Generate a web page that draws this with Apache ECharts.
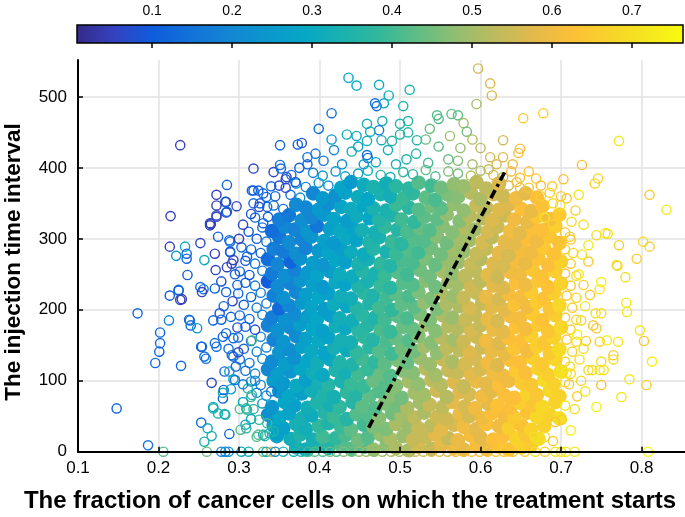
<!DOCTYPE html>
<html><head><meta charset="utf-8">
<script src="https://cdn.jsdelivr.net/npm/echarts@6/dist/echarts.min.js"></script>
<style>html,body{margin:0;padding:0;background:#fff}#c{width:685px;height:517px}</style>
</head><body><div id="c"></div>
<script>
// ---- data: [fraction, interval, colour value] ----
const cbTicks=[0.1,0.2,0.3,0.4,0.5,0.6,0.7];
const cbRange=[0.006,0.764];
const trendLine=[[0.461,34],[0.631,396]];
const coreLow=[
[.371,6,.34],[.383,3,.32],[.399,8,.37],[.411,5,.35],[.427,9,.42],[.439,4,.42],[.455,7,.42],[.467,3,.49],[.483,8,.47],[.495,5,.51],[.511,2,.50],[.523,7,.56],[.539,4,.53],[.551,9,.58],[.567,5,.60],[.579,3,.58],[.595,8,.61],[.607,4,.59],[.623,7,.64],[.635,3,.63],[.651,6,.67],[.663,9,.65],
[.347,22,.27],[.364,18,.32],[.376,24,.35],[.392,17,.33],[.404,21,.40],[.420,19,.38],[.432,23,.41],[.448,16,.45],[.460,20,.42],[.476,24,.48],[.488,18,.51],[.504,22,.49],[.516,17,.54],[.532,21,.54],[.544,24,.58],[.560,19,.54],[.572,16,.59],[.588,23,.61],[.600,20,.58],[.616,17,.62],[.628,22,.62],[.644,19,.67],[.656,24,.64],[.672,18,.69],
[.343,37,.28],[.355,33,.27],[.371,39,.33],[.383,32,.32],[.399,36,.38],[.411,40,.35],[.427,34,.39],[.439,31,.43],[.455,38,.40],[.467,35,.46],[.483,32,.46],[.495,39,.51],[.511,36,.49],[.523,33,.54],[.539,37,.53],[.551,31,.58],[.567,38,.56],[.579,35,.60],[.595,32,.58],[.607,39,.62],[.623,36,.60],[.635,33,.66],[.651,37,.63],[.663,31,.67],[.679,36,.67],
[.336,52,.22],[.350,48,.29],[.362,54,.28],[.378,47,.33],[.390,51,.31],[.406,55,.36],[.418,49,.39],[.434,46,.36],[.446,53,.42],[.462,50,.42],[.474,47,.47],[.490,54,.45],[.502,51,.50],[.518,48,.53],[.530,55,.51],[.546,49,.55],[.558,46,.55],[.574,53,.59],[.586,50,.56],[.602,47,.60],[.614,54,.62],[.630,51,.61],[.642,48,.65],[.658,55,.63],[.670,49,.68],[.686,52,.67],[.698,47,.70],
[.341,63,.24],[.357,70,.29],[.369,65,.27],[.385,62,.32],[.397,69,.35],[.413,66,.33],[.425,63,.38],[.441,70,.36],[.453,64,.43],[.469,61,.42],[.481,68,.46],[.497,65,.45],[.509,62,.51],[.525,69,.50],[.537,66,.54],[.553,63,.53],[.565,70,.58],[.581,64,.56],[.593,61,.60],[.609,68,.58],[.621,65,.63],[.637,62,.62],[.649,69,.66],[.665,66,.64],[.677,63,.68],[.693,70,.67],
[.350,85,.24],[.362,78,.29],[.378,82,.27],[.390,86,.32],[.406,80,.35],[.418,77,.33],[.434,84,.38],[.446,81,.36],[.462,78,.43],[.474,85,.42],[.490,79,.47],[.502,76,.45],[.518,83,.50],[.530,80,.50],[.546,86,.55],[.558,77,.52],[.574,84,.57],[.586,81,.56],[.602,78,.60],[.614,85,.58],[.630,79,.62],[.642,76,.62],[.658,83,.67],[.670,80,.64],[.686,86,.68],[.698,78,.67],
[.343,100,.26],[.355,96,.25],[.371,93,.30],[.383,101,.27],[.399,97,.33],[.411,94,.36],[.427,99,.34],[.439,95,.39],[.455,92,.39],[.467,100,.44],[.483,96,.42],[.495,93,.47],[.511,99,.50],[.523,95,.48],[.539,101,.53],[.551,94,.52],[.567,98,.57],[.579,92,.54],[.595,99,.59],[.607,96,.58],[.623,93,.62],[.635,100,.60],[.651,97,.65],[.663,94,.64],[.679,101,.69],[.691,95,.67],
[.336,116,.20],[.348,109,.26],[.364,113,.24],[.376,117,.29],[.392,111,.32],[.404,108,.30],[.420,115,.35],[.432,112,.33],[.448,109,.40],[.460,116,.39],[.476,110,.44],[.488,107,.42],[.504,114,.47],[.516,111,.47],[.532,117,.52],[.544,108,.50],[.560,115,.54],[.572,112,.54],[.588,109,.58],[.600,116,.56],[.616,110,.60],[.628,107,.60],[.644,114,.65],[.656,111,.62],[.672,117,.67],[.684,108,.66],[.700,113,.70],
[.341,127,.21],[.357,124,.26],[.369,132,.23],[.385,128,.29],[.397,125,.32],[.413,130,.30],[.425,126,.35],[.441,123,.35],[.453,131,.40],[.469,127,.38],[.481,124,.43],[.497,129,.46],[.509,126,.44],[.525,132,.49],[.537,123,.49],[.553,130,.54],[.565,127,.51],[.581,124,.56],[.593,131,.56],[.609,125,.60],[.621,122,.57],[.637,129,.62],[.649,126,.62],[.665,132,.66],[.677,123,.65],[.693,130,.68]
];
const coreMid=[
[.350,140,.24],[.362,144,.22],[.378,148,.27],[.390,142,.30],[.406,139,.28],[.418,146,.33],[.434,143,.31],[.446,140,.38],[.462,147,.37],[.474,141,.42],[.490,138,.40],[.502,145,.45],[.518,142,.45],[.530,148,.50],[.546,139,.48],[.558,146,.53],[.574,143,.53],[.586,140,.57],[.602,147,.55],[.614,141,.59],[.630,138,.59],[.642,145,.64],[.658,142,.61],[.670,148,.66],[.686,139,.65],[.698,144,.69],
[.343,158,.19],[.355,155,.24],[.371,163,.21],[.383,159,.27],[.399,156,.30],[.411,161,.28],[.427,157,.33],[.439,154,.33],[.455,162,.38],[.467,158,.36],[.483,155,.41],[.495,160,.44],[.511,157,.42],[.523,163,.47],[.539,154,.47],[.551,161,.52],[.567,158,.50],[.579,155,.55],[.595,162,.55],[.607,156,.60],[.623,153,.57],[.635,160,.62],[.651,157,.62],[.663,163,.66],[.679,154,.64],[.691,161,.67],
[.336,178,.19],[.348,171,.23],[.364,175,.21],[.376,179,.26],[.392,173,.29],[.404,170,.27],[.420,177,.32],[.432,174,.30],[.448,171,.37],[.460,178,.36],[.476,172,.41],[.488,169,.39],[.504,176,.44],[.516,173,.44],[.532,179,.49],[.544,170,.47],[.560,177,.52],[.572,174,.52],[.588,171,.56],[.600,178,.54],[.616,172,.59],[.628,169,.58],[.644,176,.63],[.656,173,.61],[.672,179,.65],[.684,170,.64],[.700,175,.68],
[.341,189,.18],[.357,186,.23],[.369,194,.21],[.385,190,.26],[.397,187,.29],[.413,192,.27],[.425,188,.32],[.441,185,.32],[.453,193,.37],[.469,189,.35],[.481,186,.40],[.497,191,.43],[.509,188,.41],[.525,194,.46],[.537,185,.46],[.553,192,.51],[.565,189,.49],[.581,186,.54],[.593,193,.54],[.609,187,.59],[.621,184,.56],[.637,191,.61],[.649,188,.61],[.665,194,.65],[.677,185,.63],[.693,192,.66],
[.350,202,.13],[.362,206,.20],[.378,210,.25],[.390,204,.28],[.406,201,.26],[.418,208,.31],[.434,205,.29],[.446,202,.36],[.462,209,.35],[.474,203,.40],[.490,200,.38],[.502,207,.43],[.518,204,.43],[.530,210,.48],[.546,201,.46],[.558,208,.51],[.574,205,.51],[.586,202,.56],[.602,209,.54],[.614,203,.58],[.630,200,.58],[.642,207,.63],[.658,204,.60],[.670,210,.65],[.686,201,.64],[.698,206,.68],
[.343,220,.18],[.355,217,.23],[.371,225,.20],[.383,221,.26],[.399,218,.29],[.411,223,.27],[.427,219,.32],[.439,216,.32],[.455,224,.37],[.467,220,.35],[.483,217,.40],[.495,222,.43],[.511,219,.41],[.523,225,.46],[.539,216,.46],[.551,223,.51],[.567,220,.49],[.579,217,.54],[.595,224,.54],[.607,218,.59],[.623,215,.56],[.635,222,.61],[.651,219,.61],[.663,225,.65],[.679,216,.63],[.691,223,.66],
[.336,240,.10],[.348,233,.21],[.364,237,.19],[.376,241,.24],[.392,235,.27],[.404,232,.25],[.420,239,.30],[.432,236,.28],[.448,233,.35],[.460,240,.34],[.476,234,.39],[.488,231,.37],[.504,238,.42],[.516,235,.42],[.532,241,.47],[.544,232,.45],[.560,239,.50],[.572,236,.50],[.588,233,.55],[.600,240,.53],[.616,234,.58],[.628,231,.57],[.644,238,.62],[.656,235,.60],[.672,241,.64],[.684,232,.63],[.700,237,.67],
[.341,251,.17],[.357,248,.22],[.369,256,.19],[.385,252,.25],[.397,249,.28],[.413,254,.26],[.425,250,.31],[.441,247,.31],[.453,255,.36],[.469,251,.34],[.481,248,.39],[.497,253,.42],[.509,250,.40],[.525,256,.45],[.537,247,.45],[.553,254,.50],[.565,251,.48],[.581,248,.53],[.593,255,.53],[.609,249,.58],[.621,246,.55],[.637,253,.60],[.649,250,.60],[.665,256,.64],[.677,247,.63],[.693,254,.66],
[.336,271,.14],[.348,264,.20],[.364,268,.12],[.376,272,.23],[.392,266,.26],[.404,263,.24],[.420,270,.29],[.432,267,.27],[.448,264,.34],[.460,271,.33],[.476,265,.38],[.488,262,.36],[.504,269,.41],[.516,266,.41],[.532,272,.46],[.544,263,.44],[.560,270,.49],[.572,267,.49],[.588,264,.54],[.600,271,.52],[.616,265,.57],[.628,262,.56],[.644,269,.61],[.656,266,.59],[.672,272,.63],[.684,263,.62],[.700,268,.67]
];
const coreHigh=[
[.343,286,.18],[.355,282,.17],[.371,279,.22],[.383,287,.19],[.399,283,.25],[.411,280,.28],[.427,285,.26],[.439,281,.31],[.455,278,.31],[.467,286,.36],[.483,282,.34],[.495,279,.39],[.511,284,.42],[.523,281,.40],[.539,287,.45],[.551,278,.45],[.567,285,.50],[.579,282,.49],[.595,279,.54],[.607,286,.54],[.623,280,.58],[.635,277,.56],[.651,284,.61],[.663,281,.60],[.679,287,.65],[.691,278,.63],
[.350,302,.16],[.362,295,.21],[.378,299,.19],[.390,303,.24],[.406,297,.27],[.418,294,.25],[.434,301,.30],[.446,298,.28],[.462,295,.35],[.474,302,.34],[.490,296,.39],[.502,293,.37],[.518,300,.42],[.530,297,.42],[.546,303,.47],[.558,294,.45],[.574,301,.50],[.586,298,.50],[.602,295,.56],[.614,302,.53],[.630,296,.58],[.642,293,.58],[.658,300,.62],[.670,297,.60],[.686,303,.64],[.698,294,.63],
[.341,311,.14],[.357,317,.20],[.369,313,.19],[.385,310,.24],[.397,318,.16],[.413,314,.27],[.425,311,.30],[.441,316,.28],[.453,312,.33],[.469,309,.33],[.481,317,.38],[.497,313,.36],[.509,310,.41],[.525,315,.44],[.537,312,.42],[.553,318,.47],[.565,309,.47],[.581,316,.52],[.593,313,.50],[.609,310,.56],[.621,317,.55],[.637,311,.60],[.649,308,.58],[.665,315,.62],[.677,312,.62],[.693,318,.66],
[.350,327,.18],[.362,333,.17],[.378,326,.22],[.390,330,.20],[.406,334,.25],[.418,328,.28],[.434,325,.26],[.446,332,.31],[.462,329,.29],[.474,326,.36],[.490,333,.35],[.502,327,.40],[.518,324,.38],[.530,331,.43],[.546,328,.43],[.558,334,.48],[.574,325,.47],[.586,332,.52],[.602,329,.52],[.614,326,.57],[.630,333,.55],[.642,327,.60],[.658,324,.59],[.670,331,.64],[.686,328,.61],[.698,334,.65],
[.371,348,.21],[.383,344,.20],[.399,341,.25],[.411,349,.22],[.427,345,.28],[.439,342,.31],[.455,347,.29],[.467,343,.34],[.483,340,.34],[.495,348,.39],[.511,344,.37],[.523,341,.42],[.539,346,.45],[.551,343,.43],[.567,349,.48],[.579,340,.48],[.595,347,.54],[.607,344,.53],[.623,341,.57],[.635,348,.57],[.651,342,.62],[.663,339,.59],[.677,346,.63],
[.392,364,.20],[.404,357,.25],[.420,361,.23],[.432,365,.28],[.448,359,.31],[.460,356,.29],[.476,363,.34],[.488,360,.32],[.504,357,.39],[.516,364,.38],[.532,358,.43],[.544,355,.41],[.560,362,.46],[.572,359,.47],[.588,365,.52],[.600,356,.51],[.616,363,.56],[.628,360,.55],[.644,357,.60],[.656,364,.58],[.670,358,.62],
[.427,372,.28],[.439,380,.25],[.455,376,.31],[.467,373,.34],[.483,378,.32],[.495,374,.37],[.511,371,.37],[.523,379,.42],[.539,375,.40],[.551,372,.45],[.567,377,.48],[.579,374,.49],[.595,380,.53],[.607,371,.53],[.623,378,.57]
];
const coreEdge=[
[.329,68,.24],[.322,83,.18],[.334,79,.24],[.315,99,.20],[.327,94,.19],[.705,98,.70],[.308,114,.15],[.320,110,.21],[.712,110,.68],[.301,130,.16],[.313,125,.15],[.329,131,.21],[.705,127,.66],[.306,145,.13],[.322,141,.19],[.334,147,.18],[.714,141,.67],[.299,161,.14],[.315,156,.13],[.327,162,.19],[.707,158,.65],[.719,155,.69],[.308,176,.12],[.320,172,.08],[.712,172,.66],[.301,192,.14],[.313,187,.12],[.329,193,.18],[.705,189,.65],[.719,186,.68],[.306,207,.11],[.322,203,.17],[.334,209,.16],[.714,203,.66],[.299,223,.13],[.315,218,.12],[.327,224,.18],[.707,220,.64],[.719,217,.68],[.308,238,.10],[.320,234,.16],[.712,234,.65],[.301,254,.12],[.313,249,.10],[.329,255,.17],[.705,251,.64],[.719,248,.68],[.308,269,.09],[.320,265,.15],[.712,265,.65],[.315,285,.12],[.327,280,.11],[.705,285,.66],[.322,300,.10],[.334,296,.16],[.712,299,.65],[.329,316,.14],[.705,309,.64],[.336,331,.11],[.343,347,.16],[.355,342,.14],[.364,362,.15],[.376,358,.21],
[.371,378,.19],[.383,373,.18],[.399,379,.24],[.411,375,.23],[.635,375,.55],[.649,372,.60],
[.392,393,.19],[.404,389,.25],[.420,395,.24],[.432,388,.29],[.448,392,.27],[.460,396,.32],[.476,390,.35],[.488,387,.33],[.504,394,.38],[.516,391,.36],[.532,397,.43],[.544,388,.42],[.560,395,.47],[.572,392,.45],[.588,389,.52],[.600,396,.51],[.616,390,.56],[.628,387,.55]
];
const leftFringe=[
[.148,61,.12],[.174,195,.13],[.187,9,.15],[.196,125,.13],[.201,141,.12],[.202,153,.13],[.202,168,.13],[.213,185,.20],[.214,220,.10],[.214,289,.05],[.215,332,.05],[.222,276,.25],[.225,227,.12],[.227,432,.05],[.228,121,.13],[.229,215,.04],[.233,289,.30],[.235,272,.13],[.235,279,.12],[.236,249,.10],[.238,186,.13],[.240,178,.13],[.248,174,.25],[.252,294,.06],[.254,148,.13],[.257,270,.30],[.259,131,.15],[.252,232,.13],[.256,229,.15],[.266,97,.06],[.265,321,.06],[.270,279,.05],[.270,230,.12],[.272,362,.05],[.272,333,.06],[.274,303,.10],[.271,256,.06],[.268,61,.35],[.270,153,.13],[.278,186,.12],[.280,162,.13],[.284,352,.05],[.285,376,.13],[.284,337,.06],[.280,75,.12],[.280,83,.33],[.283,52,.35],[.288,25,.13],[.288,298,.12],[.289,281,.06],[.291,265,.06],[.293,134,.14],[.293,102,.30],[.297,346,.06],[.303,288,.13],[.308,38,.28],[.310,59,.40],[.316,157,.42],[.316,80,.35],[.318,399,.06],[.318,368,.10],[.322,21,.42],[.330,24,.35],[.330,364,.12],[.330,322,.12],[.343,29,.35],[.340,85,.15],[.343,394,.06],[.340,374,.13],[.351,432,.12],[.352,399,.14],[.358,384,.06],[.358,372,.06],[.373,433,.12],[.378,435,.08],[.399,455,.14],[.415,477,.15],
[.239,185,.14],[.268,185,.13],[.253,148,.12],[.257,134,.14],[.272,148,.13],[.284,167,.12],[.291,136,.14],[.282,113,.13],[.281,87,.12],[.268,63,.30],[.274,54,.35],[.282,53,.33],[.253,41,.14],[.261,33,.28],[.266,22,.35],[.257,14,.33],[.302,31,.42],[.309,33,.35],[.301,60,.42],[.309,61,.35],[.315,46,.30],[.324,24,.42],[.332,22,.35],[.338,26,.33],[.290,88,.28],[.295,101,.14],[.288,113,.27],[.311,89,.35],[.315,77,.40],[.351,404,.14],[.359,387,.06],[.283,352,.10],[.316,368,.12],[.324,368,.10],[.334,359,.12],[.318,350,.13],[.326,350,.12],[.272,331,.06],[.264,322,.05],[.285,338,.12],[.289,296,.15],[.264,319,.05],[.254,225,.05],[.227,214,.05],[.225,228,.12],[.289,282,.12],[.293,270,.06],[.272,347,.05],
[.278,240,.08],[.284,225,.12],[.292,212,.06],[.281,205,.13],[.276,195,.08],[.290,190,.12],[.295,250,.10],[.285,260,.05],[.298,235,.12],[.293,160,.13],[.298,175,.08],[.287,145,.14],[.296,120,.13],[.299,140,.06],[.305,95,.16],[.305,70,.30],[.318,60,.38],[.325,45,.38],[.335,40,.40],[.320,100,.20],[.312,310,.10],[.305,320,.06],[.320,330,.14],[.310,275,.12],[.300,300,.05],[.315,335,.08],[.325,345,.06],[.335,345,.13],[.345,360,.12],[.350,375,.07],[.365,390,.14],[.375,400,.10],[.385,415,.14],[.370,380,.12]
];
const topFringe=[
[.436,527,.28],[.446,516,.29],[.474,517,.30],[.486,502,.31],[.512,510,.35],[.597,540,.55],[.612,519,.57],[.614,502,.57],[.595,490,.50],[.469,491,.15],[.471,487,.13],[.480,491,.30],[.504,487,.35],[.459,462,.33],[.478,466,.33],[.510,466,.35],[.500,462,.35],[.474,453,.15],[.434,447,.33],[.446,445,.30],[.463,451,.33],[.546,474,.42],[.548,469,.42],[.564,476,.43],[.572,474,.43],[.579,463,.50],[.583,451,.45],[.562,445,.50],[.537,455,.45],[.628,439,.55],[.649,427,.62],[.647,421,.62],[.612,415,.55],[.521,439,.35],[.500,447,.35],[.510,450,.36],[.490,438,.35],[.459,438,.33],[.477,439,.33],[.440,423,.33],[.459,418,.14],[.460,414,.13],
[.405,410,.16],[.418,425,.20],[.428,405,.22],[.448,430,.28],[.470,408,.29],[.485,425,.32],[.495,405,.33],[.520,420,.37],[.535,407,.40],[.548,430,.43],[.560,412,.44],[.575,428,.48],[.590,405,.50],[.600,428,.52],[.385,405,.12],[.395,420,.17],[.415,440,.24],[.532,440,.44],[.590,440,.52],[.620,405,.56],[.638,395,.60],[.645,380,.62],[.660,372,.64],[.675,360,.66],[.690,350,.68],[.455,405,.27],[.508,412,.34],[.572,410,.47],[.610,398,.54]
];
const rightFringe=[
[.678,477,.66],[.653,470,.66],[.772,438,.72],[.726,404,.63],[.746,385,.67],[.742,378,.67],[.722,362,.72],[.810,362,.66],[.831,341,.72],[.703,384,.63],[.689,374,.65],[.669,385,.64],[.649,386,.63],[.713,324,.70],[.744,305,.70],[.755,308,.72],[.758,307,.70],[.734,291,.72],[.772,291,.66],[.802,296,.70],[.810,289,.66],[.794,272,.66],[.770,262,.66],[.780,246,.70],[.750,239,.74],[.728,235,.66],[.734,268,.65],[.726,278,.70],[.711,303,.66],[.707,357,.65],[.699,347,.70],[.748,229,.72],[.736,221,.65],[.781,210,.72],[.782,197,.72],[.798,171,.72],[.803,156,.65],[.813,127,.74],[.785,102,.72],[.806,94,.66],[.775,77,.72],[.744,63,.74],[.750,94,.63],[.771,155,.72],[.765,136,.66],[.765,130,.70],[.757,157,.74],[.748,115,.72],[.739,115,.70],[.734,115,.70],[.748,155,.66],[.744,174,.64],[.740,178,.64],[.750,195,.70],[.743,195,.70],[.731,156,.65],[.723,130,.70],[.730,85,.72],[.720,78,.66],[.701,45,.65],[.693,42,.63],[.680,21,.70],[.667,21,.70],[.711,120,.70],[.707,111,.72],[.710,95,.65],
[.722,250,.72],[.728,320,.70],[.718,340,.66],[.715,280,.68],[.730,205,.72],[.725,185,.68],[.720,165,.74],[.728,145,.70],[.717,60,.70],[.705,65,.72],[.712,30,.74],[.725,100,.68],[.690,15,.66],[.700,360,.64],[.686,365,.67],[.675,375,.62],[.660,395,.63],[.640,405,.60],[.628,415,.57],[.680,330,.70],[.690,320,.66],[.769,263,.70],[.753,115,.72],[.750,127,.70]
];
const bottomRow=[
[.206,0,.42],[.260,0,.45],[.278,0,.20],[.283,0,.18],[.287,0,.22],[.303,0,.30],[.312,0,.33],[.330,0,.45],[.334,0,.30],[.340,0,.55],[.345,0,.20],[.355,0,.35],[.368,0,.30],[.377,0,.35],[.386,0,.40],[.394,0,.42],[.404,0,.40],[.413,0,.45],[.421,0,.42],[.430,0,.47],[.440,0,.45],[.449,0,.48],[.458,0,.50],[.468,0,.47],[.478,0,.50],[.489,0,.52],[.499,0,.50],[.509,0,.53],[.519,0,.55],[.529,0,.55],[.539,0,.56],[.549,0,.58],[.559,0,.57],[.569,0,.60],[.579,0,.60],[.589,0,.62],[.599,0,.60],[.609,0,.63],[.619,0,.62],[.629,0,.65],[.640,0,.63],[.655,0,.65],[.668,0,.70],[.680,0,.66],[.693,0,.72],[.700,0,.70],[.706,0,.72],[.717,0,.72],[.808,0,.76]
];
// ---- colour map (parula-like) ----
const parula=['#352a87','#3442c0','#0f5cdd','#1272d9','#1485d4','#0b97cd','#06a7c6','#1ab1b0','#33b89a','#60bd85','#91be71','#bcbb5e','#e1b94c','#fcbf38','#f8d22b','#f4e61f','#f9fb0e'];
const FONT='"Liberation Sans", Arial, Helvetica, sans-serif';
const chart=echarts.init(document.getElementById('c'),null,{renderer:'canvas'});
function ring(r,filled){
  return function(params,api){
    const p=api.coord([api.value(0),api.value(1)]);
    const col=api.visual('color');
    return {type:'circle',shape:{cx:p[0],cy:p[1],r:r},
      style:filled?{fill:col,stroke:col,lineWidth:1.4}:{fill:'none',stroke:col,lineWidth:1.4}};
  };
}
function pts(data,r,filled,z){
  return {type:'custom',xAxisIndex:0,yAxisIndex:0,data:data,encode:{x:0,y:1},
    renderItem:ring(r,filled),clip:false,z:z,silent:true};
}
const stops=parula.map((c,i)=>({offset:i/(parula.length-1),color:c}));
const G={left:78,top:60,width:607,height:391.7,containLabel:false};
chart.setOption({
  animation:false,
  backgroundColor:'#fff',
  grid:[G,{left:77,top:25,width:606,height:18,containLabel:false},G],
  xAxis:[
    {type:'value',gridIndex:0,min:0.1,max:0.854,interval:0.1,axisLine:{show:false},axisTick:{show:false},axisLabel:{show:false},
     splitLine:{show:true,showMinLine:false,showMaxLine:false,lineStyle:{color:'#e2e2e2',width:1.5}},z:0},
    {type:'value',gridIndex:1,min:cbRange[0],max:cbRange[1],position:'top',
     axisLine:{show:false},
     axisTick:{show:true,inside:true,length:5,customValues:cbTicks,lineStyle:{color:'#000',width:1.5}},
     axisLabel:{show:true,color:'#000',fontSize:14,fontFamily:FONT,margin:7,customValues:cbTicks,formatter:v=>v.toFixed(1)},
     splitLine:{show:false},z:10},
    {type:'value',gridIndex:2,min:0.1,max:0.854,interval:0.1,
     axisLine:{show:true,onZero:false,lineStyle:{color:'#000',width:2}},
     axisTick:{show:true,inside:true,length:5,lineStyle:{color:'#000',width:1.5}},
     axisLabel:{show:true,color:'#000',fontSize:17,fontFamily:FONT,margin:8,showMaxLabel:false,formatter:v=>v.toFixed(1)},
     splitLine:{show:false},z:10}],
  yAxis:[
    {type:'value',gridIndex:0,min:0,max:552,interval:100,axisLine:{show:false},axisTick:{show:false},axisLabel:{show:false},
     splitLine:{show:true,showMinLine:false,showMaxLine:false,lineStyle:{color:'#e2e2e2',width:1.5}},z:0},
    {type:'value',gridIndex:1,min:0,max:1,show:false},
    {type:'value',gridIndex:2,min:0,max:552,interval:100,
     axisLine:{show:true,onZero:false,lineStyle:{color:'#000',width:2}},
     axisTick:{show:true,inside:true,length:5,lineStyle:{color:'#000',width:1.5}},
     axisLabel:{show:true,color:'#000',fontSize:17,fontFamily:FONT,margin:11,showMaxLabel:false},
     splitLine:{show:false},z:10}],
  visualMap:{type:'continuous',show:false,dimension:2,min:cbRange[0],max:cbRange[1],seriesIndex:[0,1,2,3,4,5,6,7],inRange:{color:parula}},
  graphic:[
    {type:'text',x:350,y:501,style:{text:'The fraction of cancer cells on which the treatment starts',font:'bold 24px '+FONT,fill:'#000',textAlign:'center',textVerticalAlign:'middle'}},
    {type:'text',x:14,y:262,rotation:Math.PI/2,style:{text:'The injection time interval',font:'bold 22.5px '+FONT,fill:'#000',textAlign:'center',textVerticalAlign:'middle'}}
  ],
  series:[
    pts(coreLow,6.6,true,2),
    pts(coreMid,6.6,true,2),
    pts(coreHigh,6.6,true,2),
    pts(coreEdge,4.6,false,3),
    pts(leftFringe,4.6,false,3),
    pts(topFringe,4.6,false,3),
    pts(rightFringe,4.6,false,3),
    pts(bottomRow,4.6,false,3),
    {type:'line',xAxisIndex:0,yAxisIndex:0,data:trendLine,symbol:'none',silent:true,z:8,
     lineStyle:{color:'#000',width:3.6,type:[9,4,3,4]}},
    {type:'custom',xAxisIndex:1,yAxisIndex:1,data:[cbRange],encode:{x:[0,1]},silent:true,z:1,
     renderItem:function(params,api){
       const a=api.coord([api.value(0),0]);const b=api.coord([api.value(1),1]);
       return {type:'rect',shape:{x:a[0],y:b[1],width:b[0]-a[0],height:a[1]-b[1]},
         style:{fill:new echarts.graphic.LinearGradient(0,0,1,0,stops),stroke:'#000',lineWidth:1.5}};
     }}
  ]
});
</script></body></html>
